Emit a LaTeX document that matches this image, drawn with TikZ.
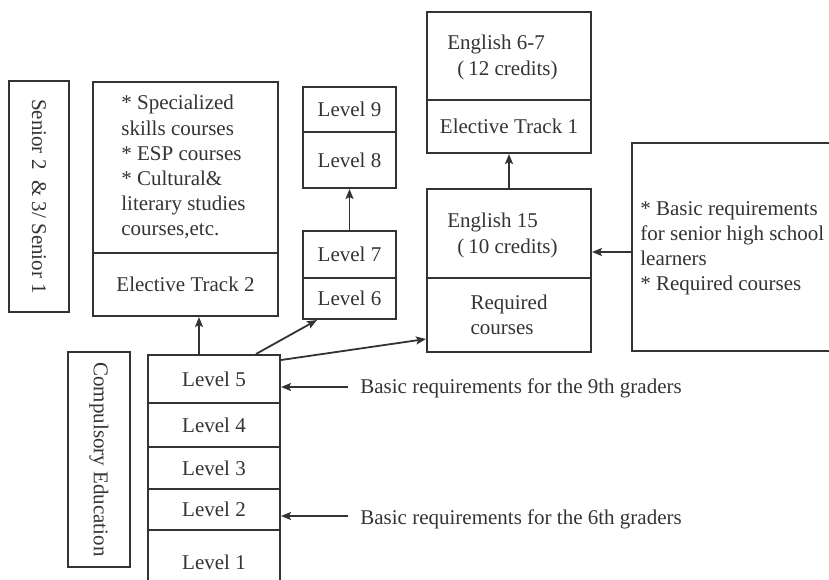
\documentclass[tikz,border=0pt]{standalone}
\usepackage{fontspec}
\setmainfont{Liberation Serif}
\usetikzlibrary{arrows.meta,fit,calc}
\definecolor{ink}{HTML}{333333}
\newcommand\diafs{\fontsize{10.5}{12.6}\selectfont}
\begin{document}
\begin{tikzpicture}[x=0.5pt,y=-0.5pt,
  box/.style={draw=ink, line width=1pt, inner sep=0pt},
  txt/.style={inner sep=0pt, text=ink, font=\diafs},
  arr/.style={draw=ink, line width=0.9pt, -{Stealth[length=5pt,width=4pt,inset=1pt]}}]
\useasboundingbox (0,0) rectangle (829,579);
\clip (0,0) rectangle (829,579);
% Senior label
\node[box, fit={(9,81) (69,312)}] (senior) {};
\node[txt, rotate=-90] (seniort) at (senior.center) {Senior 2 \ \& 3/ Senior 1};
% Elective track 2
\node[box, fit={(93,82) (278,253)}] (et2a) {};
\node[box, fit={(93,253) (278,316)}] (et2b) {};
\node[txt] (et2bt) at (et2b.center) {Elective Track 2};
\node[txt, anchor=north west, align=left] (et2t) at (121,95)
  {* Specialized\\skills courses\\* ESP courses\\* Cultural\&\\literary studies\\courses,etc.};
% Levels 6-9
\node[box, fit={(303,87) (396,132)}] (l9) {};
\node[box, fit={(303,132) (396,188)}] (l8) {};
\node[box, fit={(303,231) (396,278)}] (l7) {};
\node[box, fit={(303,278) (396,319)}] (l6) {};
\node[txt] (l9t) at (l9.center) {Level 9};
\node[txt] (l8t) at (l8.center) {Level 8};
\node[txt] (l7t) at (l7.center) {Level 7};
\node[txt] (l6t) at (l6.center) {Level 6};
% English 6-7
\node[box, fit={(427,12) (591,100)}] (e67) {};
\node[txt, anchor=north west, align=left] (e67t) at (447,35)
  {English 6-7\\\hspace*{5pt}(\kern2pt12 credits)};
\node[box, fit={(427,100) (591,153)}] (et1) {};
\node[txt] (et1t) at (et1.center) {Elective Track 1};
% English 15
\node[box, fit={(427,189) (591,278)}] (e15) {};
\node[txt, anchor=north west, align=left] (e15t) at (447,213)
  {English 15\\\hspace*{5pt}(\kern2pt10 credits)};
\node[box, fit={(427,278) (591,352)}] (req) {};
\node[txt, align=left] (reqt) at (req.center) {Required\\courses};
% right box
\node[box, fit={(632,143) (860,351)}] (rbox) {};
\node[txt, anchor=north west, align=left] (rboxt) at (640,201)
  {* Basic requirements\\for senior high school\\learners\\* Required courses};
% Compulsory education
\node[box, fit={(68,352) (130,567)}] (comp) {};
\node[txt, rotate=-90] (compt) at (comp.center) {Compulsory Education};
% Levels 1-5
\node[box, fit={(148,355) (280,403)}] (l5) {};
\node[box, fit={(148,403) (280,447)}] (l4) {};
\node[box, fit={(148,447) (280,489)}] (l3) {};
\node[box, fit={(148,489) (280,530)}] (l2) {};
\node[box, fit={(148,530) (280,597)}] (l1) {};
\node[txt] (l5t) at (l5.center) {Level 5};
\node[txt] (l4t) at (l4.center) {Level 4};
\node[txt] (l3t) at (l3.center) {Level 3};
\node[txt] (l2t) at (l2.center) {Level 2};
\node[txt] (l1t) at ($(l1.north)+(0,33)$) {Level 1};
% side labels
\node[txt, anchor=west] (t9) at (360,388) {Basic requirements for the 9th graders};
\node[txt, anchor=west] (t6) at (360,519) {Basic requirements for the 6th graders};
% connectors
\coordinate (a1) at ($(l5.north west)+(52,0)$);
\draw[arr] (a1) -- (a1 |- et2b.south);
\coordinate (a2) at ($(l5.north west)+(109,0)$);
\coordinate (b2) at ($(l6.south west)+(15,0)$);
\draw[arr] (a2) -- (b2);
\coordinate (a3) at ($(l5.north east)+(0,6)$);
\coordinate (b3) at ($(req.south west)+(0,-14)$);
\draw[arr] (a3) -- (b3);
\draw[arr] (l7.north) -- (l8.south);
\draw[arr] (e15.north) -- (et1.south);
\coordinate (c1) at ($(e15.east)+(0,18.5)$);
\draw[arr] (c1 -| rbox.west) -- (c1);
\coordinate (d9) at ($(t9.west)+(-12,-1)$);
\draw[arr] (d9) -- (d9 -| l5.east);
\coordinate (d6) at ($(t6.west)+(-12,-3)$);
\draw[arr] (d6) -- (d6 -| l2.east);
\end{tikzpicture}
\end{document}
